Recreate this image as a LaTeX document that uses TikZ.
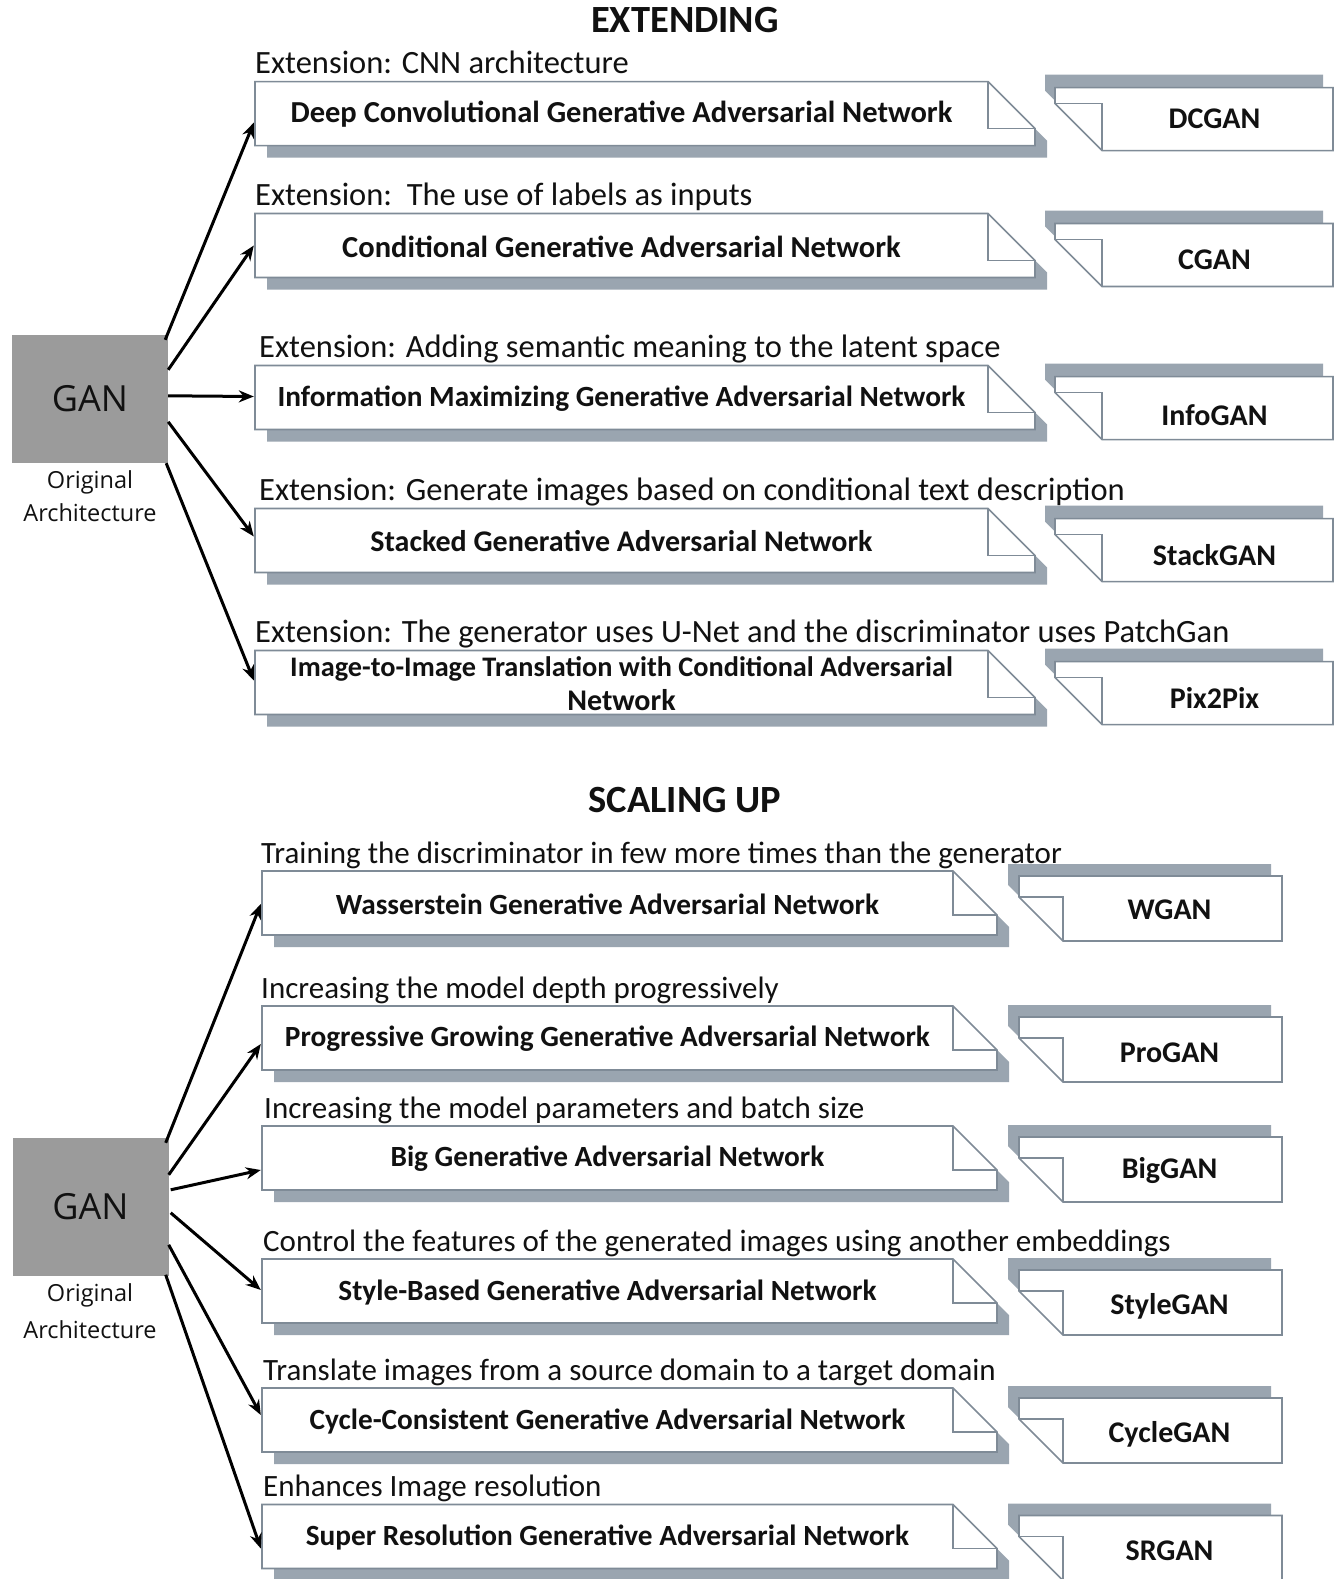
\documentclass[tikz,border=0pt]{standalone}
\usepackage{fontspec}
\setmainfont{Carlito}
\newfontfamily\osans{Open Sans}
\usetikzlibrary{arrows.meta}
\definecolor{shadowc}{HTML}{9AA5B0}
\definecolor{edgec}{HTML}{7F8B97}
\definecolor{ganc}{HTML}{9B9B9B}
\definecolor{txtc}{HTML}{111111}

\tikzset{
  arr/.style={line width=3pt, -{Stealth[length=15pt,width=12pt]}},
  mtext/.style={font=\fontsize{30}{34}\selectfont\bfseries, align=center, inner sep=0pt, text=txtc},
  lbl/.style={font=\fontsize{32.5}{36}\selectfont, anchor=base west, inner sep=0pt, text=txtc},
  ttl/.style={font=\fontsize{38.5}{40}\selectfont\bfseries, anchor=base, inner sep=0pt, text=txtc},
  abtext/.style={font=\fontsize{30}{34}\selectfont\bfseries, inner sep=0pt, text=txtc},
  ganbox/.style={fill=ganc, minimum width=156pt, inner sep=0pt, text=txtc, font=\osans\fontsize{36}{38}\selectfont},
  orig/.style={font=\osans\fontsize{23.5}{33}\selectfont, align=center, inner sep=0pt, text=txtc},
  boxedge/.style={draw=edgec, line width=1.6pt}
}

% main box: #1 name, #2 top, #3 label, #4 label x, #5 text
\newcommand\mainbx[5]{%
  \pgfmathsetmacro\qqT{#2}%
  \pgfmathsetmacro\qqB{#2+64}%
  \pgfmathsetmacro\qqFy{#2+\qqR-\qqF}%
  \pgfmathsetmacro\qqW{\qqF-\qqL}%
  \fill[shadowc] (\qqL+12,\qqT+12) -- (\qqF+12,\qqT+12) -- (\qqR+12,\qqFy+12) -- (\qqR+12,\qqB+12) -- (\qqL+12,\qqB+12) -- cycle;
  \filldraw[fill=white, boxedge] (\qqL,\qqT) -- (\qqF,\qqT) -- (\qqR,\qqFy) -- (\qqR,\qqB) -- (\qqL,\qqB) -- cycle;
  \draw[boxedge] (\qqF,\qqT) -- (\qqF,\qqFy) -- (\qqR,\qqFy);
  \node[mtext, minimum width=\qqW pt, minimum height=64pt] (#1) at ({(\qqL+\qqF)/2},{\qqT+33}) {#5};
  \node[lbl] (#1l) at (#4,\qqT-8) {#3};
}

% abbreviation box: #1 name, #2 top, #3 text, #4 text dy
\newcommand\abbx[4]{%
  \pgfmathsetmacro\qaT{#2}%
  \pgfmathsetmacro\qaBt{#2+\qaH}%
  \pgfmathsetmacro\qaFy{#2+\qaH-(\qaG-\qaA)}%
  \pgfmathsetmacro\qaW{\qaB-\qaG}%
  \fill[shadowc] (\qaA-\qgx,\qaT-\qgy) -- (\qaB-\qgx,\qaT-\qgy) -- (\qaB-\qgx,\qaBt-\qgy) -- (\qaG-\qgx,\qaBt-\qgy) -- (\qaA-\qgx,\qaFy-\qgy) -- cycle;
  \filldraw[fill=white, boxedge] (\qaA,\qaT) -- (\qaB,\qaT) -- (\qaB,\qaBt) -- (\qaG,\qaBt) -- (\qaA,\qaFy) -- cycle;
  \draw[boxedge] (\qaA,\qaFy) -- (\qaG,\qaFy) -- (\qaG,\qaBt);
  \node[abtext, minimum width=\qaW pt] (#1) at ({(\qaG+\qaB)/2-3},{\qaT+\qaH/2+#4}) {#3};
}

\begin{document}
\begin{tikzpicture}[x=1pt,y=-1pt]
\path[use as bounding box, clip] (0,0) rectangle (1337,1579);
\fill[white] (0,0) rectangle (1337,1579);

%%%%%%%%%%%%%%%% EXTENDING
\node[ttl] (t1) at (685,33) {EXTENDING};

\def\qqL{255}\def\qqF{988}\def\qqR{1035}
\mainbx{e1}{81.6}{Extension: CNN architecture}{255}{\fontsize{30.5}{34}\selectfont Deep Convolutional Generative Adversarial Network}
\mainbx{e2}{213.5}{Extension:\ \ The use of labels as inputs}{255}{\fontsize{30.5}{34}\selectfont Conditional Generative Adversarial Network}
\mainbx{e3}{365.5}{Extension: Adding semantic meaning to the latent space}{259}{\fontsize{29.3}{34}\selectfont Information Maximizing Generative Adversarial Network}
\mainbx{e4}{508.5}{Extension: Generate images based on conditional text description}{259}{Stacked Generative Adversarial Network}
\mainbx{e5}{650.5}{Extension: The generator uses U-Net and the discriminator uses PatchGan}{255}{\fontsize{28.3}{34}\selectfont Image-to-Image Translation with Conditional Adversarial\\Network}

\def\qaA{1055}\def\qaG{1102}\def\qaB{1333}\def\qaH{63}\def\qgx{10}\def\qgy{13}
\abbx{x1}{87.6}{DCGAN}{0}
\abbx{x2}{223.5}{CGAN}{5}
\abbx{x3}{376.6}{InfoGAN}{7}
\abbx{x4}{518.6}{StackGAN}{5}
\abbx{x5}{661.6}{Pix2Pix}{5}

\node[ganbox, minimum height=128pt] (gan1) at (90,399) {GAN};
\node[orig] (orig1) at (90,496) {Original\\Architecture};

\draw[arr] ([shift={(-3,5)}]gan1.north east) -- ([shift={(-1,8)}]e1.west);
\draw[arr] ([shift={(0,35)}]gan1.north east) -- ([shift={(-1,-1)}]e2.west);
\draw[arr] ([shift={(0,61)}]gan1.north east) -- ([shift={(-1,-2)}]e3.west);
\draw[arr] ([shift={(0,87)}]gan1.north east) -- ([shift={(-1,-5)}]e4.west);
\draw[arr] ([shift={(-2,0)}]gan1.south east) -- ([shift={(-1,-3)}]e5.west);

%%%%%%%%%%%%%%%% SCALING UP
\node[ttl] (t2) at (685,812) {SCALING UP};

\tikzset{lbl/.append style={font=\fontsize{31}{36}\selectfont},
         mtext/.append style={font=\fontsize{29.3}{34}\selectfont\bfseries}}
\def\qqL{262}\def\qqF{953}\def\qqR{997}
\mainbx{s1}{871}{Training the discriminator in few more times than the generator}{261}{Wasserstein Generative Adversarial Network}
\mainbx{s2}{1006}{Increasing the model depth progressively}{261}{Progressive Growing Generative Adversarial Network}
\mainbx{s3}{1126}{Increasing the model parameters and batch size}{264}{Big Generative Adversarial Network}
\mainbx{s4}{1259}{Control the features of the generated images using another embeddings}{263}{Style-Based Generative Adversarial Network}
\mainbx{s5}{1388}{Translate images from a source domain to a target domain}{263}{Cycle-Consistent Generative Adversarial Network}
\mainbx{s6}{1504.5}{Enhances Image resolution}{263}{Super Resolution Generative Adversarial Network}

\def\qaA{1019}\def\qaG{1063}\def\qaB{1282}\def\qaH{65}\def\qgx{11}\def\qgy{12}
\abbx{y1}{876}{WGAN}{1}
\abbx{y2}{1017}{ProGAN}{3}
\abbx{y3}{1137}{BigGAN}{1}
\abbx{y4}{1270}{StyleGAN}{4}
\abbx{y5}{1398}{CycleGAN}{4}
\abbx{y6}{1515.5}{SRGAN}{3}

\node[ganbox, minimum height=138pt] (gan2) at (90.5,1207) {GAN};
\node[orig, font=\osans\fontsize{23.5}{37}\selectfont] (orig2) at (90,1311) {Original\\Architecture};

\draw[arr] ([shift={(-3,5)}]gan2.north east) -- ([shift={(-1,0)}]s1.west);
\draw[arr] ([shift={(0,37)}]gan2.north east) -- ([shift={(-1,5)}]s2.west);
\draw[arr] ([shift={(2,52)}]gan2.north east) -- ([shift={(-1,11)}]s3.west);
\draw[arr] ([shift={(2,75)}]gan2.north east) -- ([shift={(-1,-2)}]s4.west);
\draw[arr] ([shift={(0,107)}]gan2.north east) -- ([shift={(-1,-6)}]s5.west);
\draw[arr] ([shift={(-3,137)}]gan2.north east) -- ([shift={(-1,11)}]s6.west);
\end{tikzpicture}
\end{document}
